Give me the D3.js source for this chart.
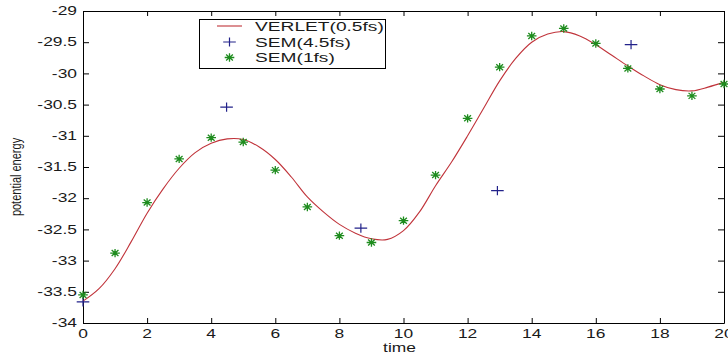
<!DOCTYPE html>
<html>
<head>
<meta charset="utf-8">
<script src="https://cdn.jsdelivr.net/npm/d3@7/dist/d3.min.js"></script>
<style>
  html, body { margin: 0; padding: 0; background: #fff; }
  svg { display: block; }
  text { font-family: "Liberation Sans", Arial, sans-serif; fill: #1a1a1a; }
</style>
</head>
<body>
<svg id="chart" width="728" height="358"></svg>
<script>
// Reference trajectory (VERLET, 0.5 fs step)
const verletTime = [0,0.5,1,1.5,2,2.5,3,3.5,4,4.5,5,5.5,6,6.5,7,7.5,8,8.5,9,9.5,10,
  10.5,11,11.5,12,12.5,13,13.5,14,14.5,15,15.5,16,16.5,17,17.5,18,18.5,19,19.5,20];
const verletEnergy = [-33.65,-33.45,-33.13,-32.70,-32.24,-31.85,-31.52,-31.27,-31.12,-31.05,-31.06,
  -31.18,-31.38,-31.66,-31.98,-32.22,-32.42,-32.56,-32.65,-32.66,-32.52,
  -32.22,-31.80,-31.42,-31.00,-30.56,-30.12,-29.76,-29.50,-29.37,-29.33,
  -29.40,-29.54,-29.71,-29.88,-30.04,-30.18,-30.26,-30.28,-30.22,-30.14];

// SEM with 4.5 fs step
const sem45Time = [0, 4.48, 8.67, 12.93, 17.1];
const sem45Energy = [-33.66, -30.54, -32.48, -31.88, -29.54];

// SEM with 1 fs step
const sem1Time = [0,1,2,3,4,5,6,7,8,9,10,11,12,13,14,15,16,17,18,19,20];
const sem1Energy = [-33.55,-32.88,-32.07,-31.37,-31.03,-31.10,-31.55,-32.14,-32.60,-32.71,-32.36,
  -31.63,-30.72,-29.90,-29.40,-29.28,-29.52,-29.92,-30.25,-30.36,-30.17];

const xTicks = [0,2,4,6,8,10,12,14,16,18,20];
const yTicks = [-29,-29.5,-30,-30.5,-31,-31.5,-32,-32.5,-33,-33.5,-34];
const xTickLabels = ["0","2","4","6","8","10","12","14","16","18","20"];
const yTickLabels = ["-29","-29.5","-30","-30.5","-31","-31.5","-32","-32.5","-33","-33.5","-34"];
const legendLabels = ["VERLET(0.5fs)", "SEM(4.5fs)", "SEM(1fs)"];

const COL_LINE = "#c0333a";
const COL_PLUS = "#22228a";
const COL_STAR = "#1e8c1e";
const STRETCH = 1.45; // text is drawn wide

const svg = d3.select("#chart");
const plotLeft = 83, plotRight = 724, plotTop = 11, plotBottom = 323;

const x = d3.scaleLinear().domain([0, 20]).range([plotLeft, plotRight]);
const y = d3.scaleLinear().domain([-34, -29]).range([plotBottom, plotTop]);

// axes (box with inward ticks)
function styleAxis(g) {
  g.selectAll("path.domain").attr("stroke", "#000").attr("stroke-width", 1);
  g.selectAll(".tick line").attr("stroke", "#000").attr("stroke-width", 1);
  g.selectAll(".tick text").remove();
}
const gBottom = svg.append("g").attr("transform", `translate(0,${plotBottom})`)
  .call(d3.axisBottom(x).tickValues(xTicks).tickSizeInner(-5).tickSizeOuter(0).tickFormat(""));
const gTop = svg.append("g").attr("transform", `translate(0,${plotTop})`)
  .call(d3.axisTop(x).tickValues(xTicks).tickSizeInner(-5).tickSizeOuter(0).tickFormat(""));
const gLeft = svg.append("g").attr("transform", `translate(${plotLeft},0)`)
  .call(d3.axisLeft(y).tickValues(yTicks).tickSizeInner(-6).tickSizeOuter(0).tickFormat(""));
const gRight = svg.append("g").attr("transform", `translate(${plotRight},0)`)
  .call(d3.axisRight(y).tickValues(yTicks).tickSizeInner(-6).tickSizeOuter(0).tickFormat(""));
[gBottom, gTop, gLeft, gRight].forEach(styleAxis);

// tick labels
svg.append("g").selectAll("text").data(xTicks).join("text")
  .attr("transform", d => `translate(${x(d)},${plotBottom + 15}) scale(${STRETCH},1)`)
  .attr("text-anchor", "middle")
  .attr("font-size", 12)
  .text((d, i) => xTickLabels[i]);
svg.append("g").selectAll("text").data(yTicks).join("text")
  .attr("transform", d => `translate(${plotLeft - 6},${y(d) + 4.2}) scale(${STRETCH},1)`)
  .attr("text-anchor", "end")
  .attr("font-size", 12)
  .text((d, i) => yTickLabels[i]);

// axis titles
svg.append("text")
  .attr("transform", `translate(${(plotLeft + plotRight) / 2 - 4},${plotBottom + 29}) scale(${STRETCH},1)`)
  .attr("text-anchor", "middle").attr("font-size", 12).text("time");
svg.append("text")
  .attr("transform", `translate(21,${(plotTop + plotBottom) / 2 + 10}) rotate(-90) scale(1,1.3)`)
  .attr("text-anchor", "middle").attr("font-size", 11).text("potential energy");

// marker shapes
function plusPath(cx, cy) {
  const w = 6.3, h = 4.6;
  return `M${cx - w},${cy}H${cx + w}M${cx},${cy - h}V${cy + h}`;
}
function starPath(cx, cy) {
  const w = 4.8, h = 4.2, dw = 3.4, dh = 3.0;
  return `M${cx - w},${cy}H${cx + w}M${cx},${cy - h}V${cy + h}` +
         `M${cx - dw},${cy - dh}L${cx + dw},${cy + dh}M${cx - dw},${cy + dh}L${cx + dw},${cy - dh}`;
}

// VERLET curve
const line = d3.line()
  .x((d, i) => x(verletTime[i]))
  .y(d => y(d))
  .curve(d3.curveCatmullRom.alpha(0.5));
svg.append("path")
  .attr("d", line(verletEnergy))
  .attr("fill", "none")
  .attr("stroke", COL_LINE)
  .attr("stroke-width", 1.1);

// SEM 4.5 fs
svg.append("g").selectAll("path").data(sem45Energy).join("path")
  .attr("d", (d, i) => plusPath(x(sem45Time[i]), y(d)))
  .attr("stroke", COL_PLUS).attr("stroke-width", 1.2).attr("fill", "none");

// SEM 1 fs
svg.append("g").selectAll("path").data(sem1Energy).join("path")
  .attr("d", (d, i) => starPath(x(sem1Time[i]), y(d)))
  .attr("stroke", COL_STAR).attr("stroke-width", 1.3).attr("fill", "none");

// legend
const lg = svg.append("g");
lg.append("rect")
  .attr("x", 199.5).attr("y", 19.5).attr("width", 186).attr("height", 49)
  .attr("fill", "#fff").attr("stroke", "#000").attr("stroke-width", 1);
const rowY = [26, 42, 57.5];
lg.append("line")
  .attr("x1", 217).attr("x2", 242).attr("y1", rowY[0]).attr("y2", rowY[0])
  .attr("stroke", COL_LINE).attr("stroke-width", 1.1);
lg.append("path").attr("d", plusPath(229.5, rowY[1]))
  .attr("stroke", COL_PLUS).attr("stroke-width", 1.2).attr("fill", "none");
lg.append("path").attr("d", starPath(229.5, rowY[2]))
  .attr("stroke", COL_STAR).attr("stroke-width", 1.3).attr("fill", "none");
lg.selectAll("text.lbl").data(legendLabels).join("text")
  .attr("class", "lbl")
  .attr("transform", (d, i) => `translate(255,${rowY[i] + 4.8}) scale(1.42,1)`)
  .attr("font-size", 13.5)
  .text(d => d);
</script>
</body>
</html>
